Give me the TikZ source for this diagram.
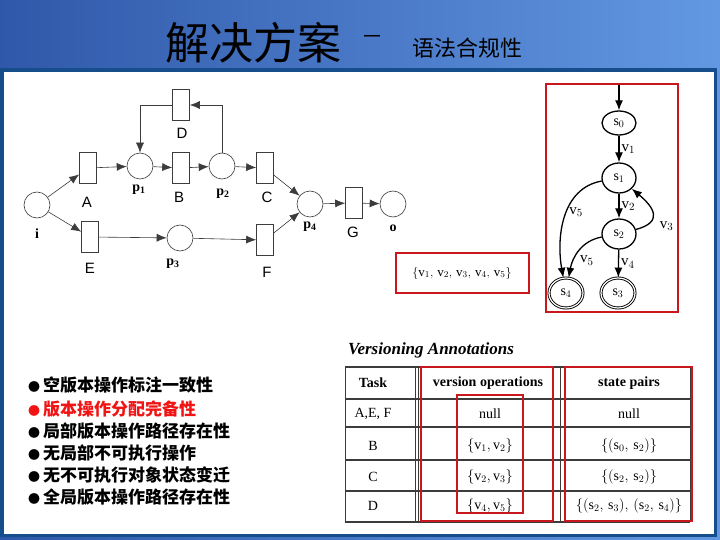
\documentclass[tikz,border=0pt]{standalone}
\usepackage{fontspec}
\setmainfont{Liberation Serif}
\newfontfamily\cjk{Noto Sans CJK SC}
\newfontfamily\arial{Liberation Sans}
\usetikzlibrary{shapes.geometric,arrows.meta}
\definecolor{hdrdark}{RGB}{48,88,170}
\definecolor{hdrmid}{RGB}{70,122,205}
\definecolor{hdrlight}{RGB}{98,152,226}
\definecolor{frameblue}{RGB}{22,78,140}
\definecolor{boxred}{RGB}{200,24,30}
\definecolor{hotred}{RGB}{240,20,20}
\definecolor{netgray}{RGB}{60,60,60}
\begin{document}
\begin{tikzpicture}[x=1pt,y=1pt,>={Latex[length=10pt,width=8pt]},
    place/.style={circle,draw=netgray,line width=0.6pt,minimum size=26pt,inner sep=0pt},
    trans/.style={rectangle,draw=netgray,line width=0.6pt,minimum width=17pt,minimum height=31pt,inner sep=0pt},
    arc/.style={draw=netgray,line width=0.6pt},
    tlab/.style={font=\arial\fontsize{15}{15}\selectfont},
    plab/.style={font=\bfseries\fontsize{14}{14}\selectfont},
    state/.style={ellipse,draw,line width=1.3pt,minimum width=34pt,minimum height=30pt,inner sep=0pt,font=\fontsize{14}{14}\selectfont},
    final/.style={state,double,double distance=1.2pt,line width=0.9pt},
    sedge/.style={draw,line width=1.3pt},
    vlab/.style={font=\fontsize{15}{15}\selectfont,inner sep=2pt},
    redbox/.style={draw=boxred,line width=2.5pt},
    cell/.style={font=\fontsize{14}{14}\selectfont},
    head/.style={font=\bfseries\fontsize{14}{14}\selectfont},
    bullet/.style={anchor=west,font=\cjk\bfseries\fontsize{17}{17}\selectfont,inner sep=0pt}]
  \useasboundingbox (0,0) rectangle (720,-540);
  % slide background
  \shade[left color=hdrdark,middle color=hdrmid,right color=hdrlight] (0,0) rectangle (720,-540);
  \fill[frameblue] (0,-68) rectangle (717,-537);
  \fill[white] (4,-72) rectangle (714,-534);
  \node[font=\cjk\fontsize{44}{44}\selectfont] (title) at (253,-43) {解决方案};
  \node[font=\cjk\fontsize{22}{22}\selectfont] (dash) at (372,-40) {－};
  \node[font=\cjk\fontsize{22}{22}\selectfont] (subtitle) at (467,-48) {语法合规性};

  % workflow net
  \node[place] (i) at (37,-205) {};
  \node[trans] (A) at (88,-168) {};
  \node[trans] (E) at (90,-237) {};
  \node[place] (p1) at (140,-166) {};
  \node[trans] (B) at (181,-168) {};
  \node[place] (p2) at (222,-166) {};
  \node[trans] (C) at (265,-168) {};
  \node[trans] (D) at (181,-105) {};
  \node[place] (p3) at (180,-238) {};
  \node[trans] (F) at (265,-240) {};
  \node[place] (p4) at (310,-204) {};
  \node[trans] (G) at (354,-203) {};
  \node[place] (o) at (393,-204) {};
  \node[plab] (li) at (37,-234) {i};
  \node[tlab] (lA) at (87,-202) {A};
  \node[tlab] (lE) at (90,-268) {E};
  \node[plab] (lp1) at (139,-190) {$\mathbf{p}_\mathbf{1}$};
  \node[tlab] (lB) at (179,-197) {B};
  \node[plab] (lp2) at (223,-194) {$\mathbf{p}_\mathbf{2}$};
  \node[tlab] (lC) at (267,-197) {C};
  \node[tlab] (lD) at (182,-133) {D};
  \node[plab] (lp3) at (173,-264) {$\mathbf{p}_\mathbf{3}$};
  \node[tlab] (lF) at (267,-272) {F};
  \node[plab] (lp4) at (310,-227) {$\mathbf{p}_\mathbf{4}$};
  \node[tlab] (lG) at (353,-232) {G};
  \node[plab] (lo) at (393,-228) {o};
  \draw[arc,->] (i) -- (A);
  \draw[arc,->] (i) -- (E);
  \draw[arc,->] (A) -- (p1);
  \draw[arc,->] (p1) -- (B);
  \draw[arc,->] (B) -- (p2);
  \draw[arc,->] (p2) -- (C);
  \draw[arc,->] (p2.north) |- (D.east);
  \draw[arc,->] (D.west) -| (p1.north);
  \draw[arc,->] (E) -- (p3);
  \draw[arc,->] (p3) -- (F);
  \draw[arc,->] (C) -- (p4);
  \draw[arc,->] (F) -- (p4);
  \draw[arc,->] (p4) -- (G);
  \draw[arc,->] (G) -- (o);

  % version set
  \node[font=\fontsize{13}{13}\selectfont] (vset) at (462,-273)
    {$\{\mathrm{v}_1,\,\mathrm{v}_2,\,\mathrm{v}_3,\,\mathrm{v}_4,\,\mathrm{v}_5\}$};
  \draw[redbox] (396,-253) rectangle (529,-293);

  % version state graph
  \coordinate (start) at (619,-85);
  \node[state,minimum height=24pt] (s0) at (619,-123) {s$_0$};
  \node[state] (s1) at (619,-178) {s$_1$};
  \node[state] (s2) at (619,-234) {s$_2$};
  \node[final] (s4) at (566,-293) {s$_4$};
  \node[final] (s3) at (618,-293) {s$_3$};
  \draw[sedge,->] (start) -- (s0);
  \draw[sedge,->] (s0) -- node[vlab,right] {v$_1$} (s1);
  \draw[sedge,->] (s1) -- node[vlab,right] {v$_2$} (s2);
  \draw[sedge,->] (s2) -- node[vlab,right] {v$_4$} (s3);
  \draw[sedge,->] (s2) to[out=15,in=-40,looseness=1.8] node[vlab,pos=0.2,right,xshift=9pt,yshift=-2pt] {v$_3$} (s1);
  \draw[sedge,->] (s1) to[out=190,in=100] node[vlab,pos=0.45,right] {v$_5$} (s4.100);
  \draw[sedge,->] (s2) to[out=190,in=80] node[vlab,pos=0.55,below right] {v$_5$} (s4.80);
  \draw[redbox] (546,-84) rectangle (678,-312);

  % annotation table
  \node[font=\bfseries\itshape\fontsize{17}{17}\selectfont] (anno) at (431,-350) {Versioning Annotations};
  \foreach \y in {367,399,427,460,491,522}
    \draw[netgray,line width=1.2pt] (345,-\y) -- (690,-\y);
  \foreach \x in {345,415,418,560,690}
    \draw[netgray,line width=0.6pt] (\x,-367) -- (\x,-522);
  \node[head] (hTask) at (373,-383) {Task};
  \node[head] (hOps) at (488,-383) {version operations};
  \node[head] (hPairs) at (629,-383) {state pairs};
  \foreach \r/\y/\t/\o/\s in {
      1/414/{A,E, F}/null/null,
      2/446/B/{$\{\mathrm{v}_1,\mathrm{v}_2\}$}/{$\{(\mathrm{s}_0,\,\mathrm{s}_2)\}$},
      3/477/C/{$\{\mathrm{v}_2,\mathrm{v}_3\}$}/{$\{(\mathrm{s}_2,\,\mathrm{s}_2)\}$},
      4/506/D/{$\{\mathrm{v}_4,\mathrm{v}_5\}$}/{$\{(\mathrm{s}_2,\,\mathrm{s}_3),\,(\mathrm{s}_2,\,\mathrm{s}_4)\}$}}{
    \node[cell] (task\r) at (373,-\y) {\t};
    \node[cell] (ops\r) at (490,-\y) {\o};
    \node[cell] (pairs\r) at (629,-\y) {\s};
  }
  \draw[redbox] (421,-367) rectangle (553,-521);
  \draw[redbox] (457,-395) rectangle (523,-513);
  \draw[redbox] (565,-367) rectangle (692,-521);

  % properties
  \node[bullet] (b1) at (28,-385) {{\fontsize{12}{12}\selectfont●}\hspace{3pt}空版本操作标注一致性};
  \node[bullet,text=hotred] (b2) at (28,-409) {{\fontsize{12}{12}\selectfont●}\hspace{3pt}版本操作分配完备性};
  \node[bullet] (b3) at (28,-431) {{\fontsize{12}{12}\selectfont●}\hspace{3pt}局部版本操作路径存在性};
  \node[bullet] (b4) at (28,-453) {{\fontsize{12}{12}\selectfont●}\hspace{3pt}无局部不可执行操作};
  \node[bullet] (b5) at (28,-475) {{\fontsize{12}{12}\selectfont●}\hspace{3pt}无不可执行对象状态变迁};
  \node[bullet] (b6) at (28,-497) {{\fontsize{12}{12}\selectfont●}\hspace{3pt}全局版本操作路径存在性};
\end{tikzpicture}
\end{document}
